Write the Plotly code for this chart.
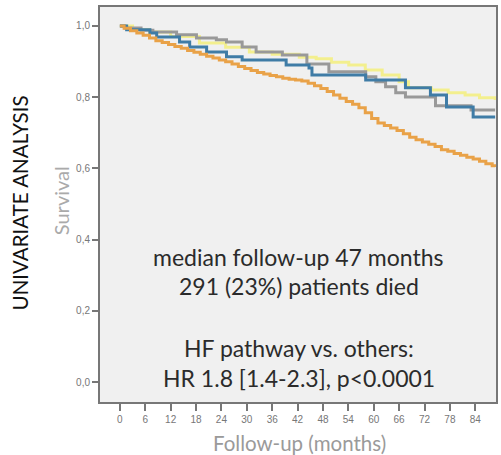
import plotly.graph_objects as go

# ---- data ----
months_orange = [0, 1, 2.5, 4, 5.5, 7, 8.5, 10, 11.5, 13, 14.5, 16, 17.5, 19, 20.5, 22, 23.5, 25, 26.5, 28,
                 29.5, 31, 32.5, 34, 35.5, 37, 38.5, 40, 41.5, 43, 44.5, 46, 47.5, 49, 50.5, 52, 53.5, 55,
                 56.5, 58, 59.5, 61, 62.5, 64, 65.5, 67, 68.5, 70, 71.5, 73, 74.5, 76, 77.5, 79, 80.5, 82,
                 83.5, 85, 86.5, 88, 88.7]
surv_orange = [1.0, 0.993, 0.986, 0.980, 0.974, 0.966, 0.958, 0.953, 0.948, 0.942, 0.937, 0.931, 0.926, 0.920,
               0.915, 0.910, 0.904, 0.899, 0.893, 0.886, 0.880, 0.875, 0.869, 0.865, 0.861, 0.857, 0.853, 0.850,
               0.848, 0.845, 0.839, 0.832, 0.824, 0.816, 0.806, 0.797, 0.788, 0.780, 0.770, 0.756, 0.740, 0.727,
               0.720, 0.713, 0.706, 0.697, 0.687, 0.680, 0.674, 0.668, 0.661, 0.652, 0.648, 0.642, 0.637, 0.631,
               0.626, 0.620, 0.613, 0.607, 0.604]

months_gray = [0, 1.2, 5, 7.8, 13.4, 18.1, 22.8, 25.2, 28.9, 32.2, 38.4, 44.2, 49.4, 58.1, 60.5, 62.8, 65.2, 67.5, 74.6, 83, 88.7]
surv_gray = [1.0, 0.994, 0.988, 0.983, 0.975, 0.966, 0.961, 0.955, 0.941, 0.927, 0.918, 0.893, 0.871, 0.857, 0.843, 0.829, 0.812, 0.80, 0.776, 0.764, 0.764]

months_blue = [0, 1.6, 7.1, 8.7, 14.1, 16.5, 20.5, 25.2, 28.9, 39.3, 44.7, 45.4, 58.1, 67.5, 73.4, 77.2, 83.5, 88.7]
surv_blue = [1.0, 0.989, 0.98, 0.969, 0.955, 0.941, 0.927, 0.913, 0.904, 0.89, 0.882, 0.862, 0.848, 0.826, 0.806, 0.772, 0.744, 0.744]

months_yellow = [0, 3, 7, 12, 18.8, 25, 30.6, 36, 42.4, 46.4, 50, 54.1, 58, 62, 66, 68.2, 73.6, 77.6, 81.6, 85, 88.7]
surv_yellow = [1.0, 0.99, 0.983, 0.97, 0.952, 0.94, 0.927, 0.92, 0.912, 0.908, 0.898, 0.89, 0.876, 0.862, 0.843, 0.826, 0.82, 0.812, 0.806, 0.798, 0.792]

x_ticks = [0, 6, 12, 18, 24, 30, 36, 42, 48, 54, 60, 66, 72, 78, 84]
y_ticks = [0.0, 0.2, 0.4, 0.6, 0.8, 1.0]
y_tick_text = ["0,0", "0,2", "0,4", "0,6", "0,8", "1,0"]

series = [
    ("Others 3", months_yellow, surv_yellow, "#F3EF8E"),
    ("Others 2", months_gray, surv_gray, "#999999"),
    ("Others 1", months_blue, surv_blue, "#3F7CA6"),
    ("HF pathway", months_orange, surv_orange, "#E9A248"),
]

W, H = 501, 455
L, R, T, B = 100, 3, 7, 53
PW, PH = W - L - R, H - T - B

def px(x):
    return (x - L) / PW

def py(y):
    return (H - B - y) / PH

fig = go.Figure()
for name, xs, ys, col in series:
    fig.add_trace(go.Scatter(x=xs, y=ys, mode="lines", name=name,
                             line=dict(color=col, width=3, shape="hv")))

font_main = "Lato, 'Open Sans', sans-serif"
ann = []
texts = [
    ("median follow-up 47 months", 300, 257),
    ("291 (23%) patients died", 300, 286),
    ("HF pathway vs. others:", 300, 348),
    ("HR 1.8 [1.4-2.3], p<0.0001", 300, 378),
]
for t, x, y in texts:
    ann.append(dict(text=t, x=px(x), y=py(y), xref="paper", yref="paper",
                    showarrow=False, xanchor="center", yanchor="middle",
                    font=dict(family=font_main, size=23, color="#2b2b2b")))
ann.append(dict(text="UNIVARIATE ANALYSIS", x=px(20), y=py(203), xref="paper", yref="paper",
                showarrow=False, textangle=-90, xanchor="center", yanchor="middle",
                font=dict(family=font_main, size=20.5, color="#111111")))
ann.append(dict(text="Survival", x=px(61), y=py(201), xref="paper", yref="paper",
                showarrow=False, textangle=-90, xanchor="center", yanchor="middle",
                font=dict(family=font_main, size=20, color="#aaaaaa")))
ann.append(dict(text="Follow-up (months)", x=px(301), y=py(443), xref="paper", yref="paper",
                showarrow=False, xanchor="center", yanchor="middle",
                font=dict(family=font_main, size=20.5, color="#9a9a9a")))

fig.update_layout(
    width=W, height=H,
    margin=dict(l=L, r=R, t=T, b=B),
    paper_bgcolor="white",
    plot_bgcolor="#F0F0F0",
    showlegend=False,
    annotations=ann,
    xaxis=dict(range=[-4.7, 88.9], tickvals=x_ticks, ticks="outside", ticklen=7,
               tickcolor="#777777", tickwidth=1.5, showgrid=False, zeroline=False,
               showline=True, linecolor="#777777", linewidth=2, mirror=True,
               tickfont=dict(family="Liberation Sans, Arial", size=10, color="#777777")),
    yaxis=dict(range=[-0.056, 1.053], tickvals=y_ticks, ticktext=y_tick_text,
               ticks="outside", ticklen=6, tickcolor="#777777", tickwidth=1.5,
               showgrid=False, zeroline=False, showline=True, linecolor="#777777",
               linewidth=2, mirror=True,
               tickfont=dict(family="Liberation Sans, Arial", size=10, color="#777777")),
)

fig.write_html("out.html")
